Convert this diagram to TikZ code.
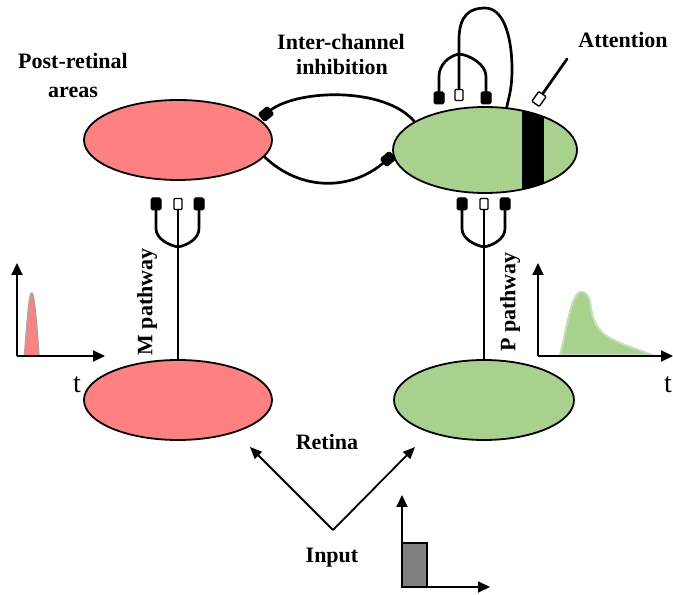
\documentclass[tikz,border=0pt]{standalone}
\usepackage{fontspec}
\setmainfont{Liberation Serif}
\usetikzlibrary{shapes.geometric,arrows.meta}
\definecolor{mred}{RGB}{255,128,128}
\definecolor{pgreen}{RGB}{169,209,142}
\definecolor{lgreen}{RGB}{197,224,180}
\definecolor{pgray}{RGB}{166,166,166}
\definecolor{igray}{RGB}{128,128,128}
\begin{document}
\begin{tikzpicture}[x=1pt,y=1pt,
  area/.style={ellipse, draw, line width=1.8pt, inner sep=0pt},
  lbl/.style={font=\fontsize{22}{26}\selectfont\bfseries, inner sep=0pt},
  tlbl/.style={font=\fontsize{28}{30}\selectfont, inner sep=0pt},
  wire/.style={line width=2.7pt, line cap=round},
  fterm/.style={rectangle, draw, fill=black, line width=1pt, minimum width=10pt, minimum height=12pt, inner sep=0pt, rounded corners=1.5pt},
  oterm/.style={rectangle, draw, fill=white, line width=1.4pt, minimum width=8pt, minimum height=11pt, inner sep=0pt, rounded corners=1pt},
  axis/.style={line width=2pt, -{Triangle[length=12pt,width=11pt]}},
  arr/.style={line width=1.8pt, -{Triangle[length=12pt,width=10pt]}}
]
\useasboundingbox (0,0) rectangle (673,595);

% areas
\node[area, fill=mred, minimum width=188pt, minimum height=80pt] (pl) at (178,455) {};
\node[area, fill=pgreen, minimum width=184pt, minimum height=86pt] (pr) at (485,445) {};
\node[area, fill=mred, minimum width=188pt, minimum height=80pt] (rl) at (178,195) {};
\node[area, fill=pgreen, minimum width=180pt, minimum height=80pt] (rr) at (484,195) {};

% attention bar
\begin{scope}
\clip (485,445) ellipse [x radius=92, y radius=43];
\fill (522,400) rectangle (544,490);
\end{scope}

% inter-channel inhibition
\node[fterm, rotate=-50] (ia) at (266,481) {};
\node[fterm, rotate=-50] (ib) at (388,436) {};
\draw[wire] (ia.north) .. controls (300,506) and (385,508) .. (pr.158);
\draw[wire] (pl.-11) .. controls (300,404) and (350,404) .. (ib.south);

% M feedforward
\node[fterm] (a1) at (156,391) {};
\node[oterm] (a2) at (178,391) {};
\node[fterm] (a3) at (199,391) {};
\coordinate (aj) at (178,348);
\draw[wire] (a1.south) -- ++(0,-18) .. controls +(0,-10) and (168,350) .. (aj);
\draw[wire] (a3.south) -- ++(0,-18) .. controls +(0,-10) and (188,350) .. (aj);
\draw[wire] (a2.south) -- (rl.north);

% P feedforward
\node[fterm] (b1) at (462,391) {};
\node[oterm] (b2) at (484,391) {};
\node[fterm] (b3) at (505,391) {};
\coordinate (bj) at (484,348);
\draw[wire] (b1.south) -- ++(0,-18) .. controls +(0,-10) and (474,350) .. (bj);
\draw[wire] (b3.south) -- ++(0,-18) .. controls +(0,-10) and (494,350) .. (bj);
\draw[wire] (b2.south) -- (rr.north);

% feedback loop
\node[fterm] (c1) at (439,497) {};
\node[oterm] (c2) at (459,500) {};
\node[fterm] (c3) at (486,497) {};
\coordinate (cj) at (459,541);
\draw[wire] (c1.north) -- ++(0,15) .. controls +(0,12) and (449,539) .. (cj);
\draw[wire] (c3.north) -- ++(0,15) .. controls +(0,12) and (470,540) .. (cj);
\draw[wire] (c2.north) -- (459,555) .. controls (459,580) and (470,587) .. (485,587)
  .. controls (503,587) and (512,560) .. (512,525)
  .. controls (512,505) and (508,495) .. (pr.63);

% attention
\node[oterm, rotate=-35, minimum width=9pt, minimum height=12pt] (at) at (539,496) {};
\coordinate (atop) at (567,536);
\draw[wire] (at.north) -- (atop);

% retina input arrows
\coordinate (inp) at (333,65);
\coordinate (ra) at (250,148);
\coordinate (rb) at (415,148);
\draw[arr] (inp) -- (ra);
\draw[arr] (inp) -- (rb);

% left plot
\coordinate (lo) at (17,239);
\filldraw[fill=mred, draw=pgray, line width=1.5pt] plot[domain=24.5:39, samples=40, smooth] (\x, {239+63*sin(180*(\x-24.5)/14.5)}) -- cycle;
\draw[axis] (lo) -- (17,332);
\draw[axis] (lo) -- (105,239);

% right plot
\coordinate (ro) at (538,239);
\filldraw[fill=pgreen, draw=lgreen, line width=2pt] (560,240) .. controls (566,262) and (571,303) .. (581,303)
  .. controls (588,303) and (590,296) .. (591,287)
  .. controls (593,272) and (600,262) .. (610,257)
  .. controls (625,249) and (640,245) .. (652,240) -- cycle;
\draw[axis] (ro) -- (538,332);
\draw[axis] (ro) -- (673,239);

% input plot
\coordinate (io) at (402,8);
\filldraw[fill=igray, draw=black, line width=1.5pt] (402,8) rectangle (427,52);
\draw[axis] (io) -- (402,100);
\draw[axis] (io) -- (490,8);

% labels
\node[lbl, anchor=base] (lpost) at (73,526) {Post-retinal};
\node[lbl, anchor=base] (lareas) at (73,497) {areas};
\node[lbl, anchor=base] (linter) at (341,545) {Inter-channel};
\node[lbl, anchor=base] (linh) at (342,520) {inhibition};
\node[lbl, anchor=base] (latt) at (623,547) {Attention};
\node[lbl, anchor=base] (lret) at (327,145) {Retina};
\node[lbl, anchor=base] (linp) at (332,32) {Input};
\node[lbl, rotate=90] (lm) at (147,293) {M pathway};
\node[lbl, rotate=90] (lp) at (510,293) {P pathway};
\node[tlbl, anchor=base] (lt1) at (77,202) {t};
\node[tlbl, anchor=base] (lt2) at (668,202) {t};
\end{tikzpicture}
\end{document}
